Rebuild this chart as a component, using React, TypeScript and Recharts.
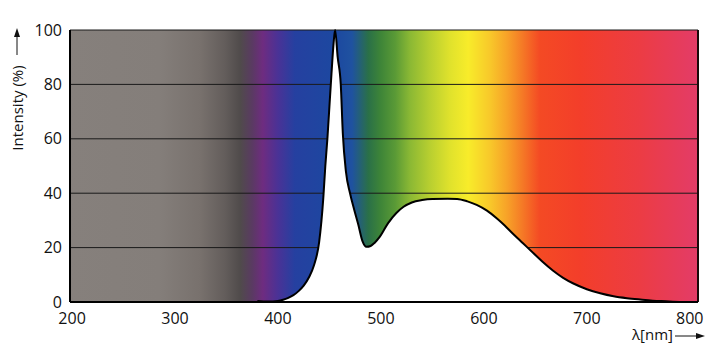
import React from "react";
import {
  ComposedChart, Area, XAxis, YAxis, CartesianGrid, ReferenceLine,
} from "recharts";

// Spektrum einer weißen LED: schmaler Blau-Peak + breite Phosphor-Bande.
// Hintergrund = Farbverlauf des Spektrums, Fläche unter der Kurve weiß.

const wavelengths = [
  380, 390, 400, 405, 410, 415, 420, 425, 430, 435, 440, 444, 446, 448, 450, 452, 454, 455.5,
  458, 461, 463, 466, 470, 474, 478, 482, 486, 490, 494, 499, 507, 515, 522, 530, 540, 550,
  565, 574, 584, 593, 603, 613, 620, 628, 638, 648, 657, 667, 677, 687, 700, 713, 726, 739,
  752, 764, 777, 790,
];
const intensity = [
  0.4, 0.2, 0.4, 0.8, 1.5, 2.5, 4, 6, 9, 13.5, 22, 38, 50, 60, 72, 84, 95, 100,
  90, 80, 62, 48, 40, 34, 28.5, 22.5, 20.3, 20.6, 21.8, 24, 29, 32.7, 35, 36.6, 37.5, 37.9,
  38, 37.9, 37, 35.7, 33.6, 30.6, 28.2, 25.2, 21.6, 18, 14.8, 11.6, 8.9, 6.8, 4.7, 3.2, 2.1, 1.4,
  0.9, 0.5, 0.25, 0,
];
const xTicks = [200, 300, 400, 500, 600, 700, 800];
const yTicks = [0, 20, 40, 60, 80, 100];

// Farbverlauf (Anteil der Plotbreite -> Farbe)
const gradOffsets = [0, 0.143, 0.207, 0.247, 0.271, 0.29, 0.307, 0.331, 0.358, 0.422, 0.449, 0.475,
  0.494, 0.518, 0.541, 0.573, 0.605, 0.634, 0.669, 0.696, 0.72, 0.748, 0.812, 0.908, 1];
const gradColors = ["#86807c", "#847e7a", "#78716d", "#635d5b", "#504b4b", "#5a3a62", "#6e2c80",
  "#4a3296", "#2540a0", "#1c48a0", "#1f52a0", "#2a7048", "#3d8438", "#5a9a36", "#8ab834", "#b8cf30",
  "#e0e22c", "#f8ec2a", "#f8c82a", "#f7a228", "#f57a26", "#f44a24", "#f33e2a", "#ec3c44", "#e33c68"];

const rows = wavelengths.map((w, i) => ({ w, v: intensity[i] }));

const FONT = "'Open Sans', sans-serif";

function YLabel({ viewBox }: any) {
  const cx = 17;
  const midY = viewBox.y + 78;
  return (
    <g>
      <text
        x={cx} y={midY} transform={`rotate(-90 ${cx} ${midY})`} textAnchor="middle"
        dominantBaseline="central" fontFamily={FONT} fontSize={15} fill="#111"
      >
        Intensity (%)
      </text>
      <line x1={cx} y1={viewBox.y + 25} x2={cx} y2={viewBox.y + 3} stroke="#111" strokeWidth={1} />
      <path d={`M${cx - 3},${viewBox.y + 7} L${cx},${viewBox.y - 2} L${cx + 3},${viewBox.y + 7} Z`} fill="#111" />
    </g>
  );
}

function XLabel({ viewBox }: any) {
  const right = viewBox.x + viewBox.width;
  const y = 340;
  return (
    <g>
      <text x={right - 25} y={y} textAnchor="end" fontFamily={FONT} fontSize={15} fill="#111">
        λ[nm]
      </text>
      <line x1={right - 23} y1={y - 4} x2={right + 2} y2={y - 4} stroke="#111" strokeWidth={1} />
      <path d={`M${right - 2},${y - 7} L${right + 7},${y - 4} L${right - 2},${y - 1} Z`} fill="#111" />
    </g>
  );
}

export default function App() {
  return (
    <div style={{ position: "absolute", left: 0, top: 0, background: "#fff" }}>
      <ComposedChart width={726} height={359} data={rows} margin={{ top: 30, right: 28, left: 10, bottom: 27 }}>
        <defs>
          <linearGradient id="spec" x1="0" y1="0" x2="1" y2="0">
            {gradOffsets.map((o, i) => (
              <stop key={i} offset={o} stopColor={gradColors[i]} />
            ))}
          </linearGradient>
        </defs>
        <CartesianGrid vertical={false} fill="url(#spec)" fillOpacity={1} stroke="#1a1a1a" strokeWidth={1} />
        <XAxis
          dataKey="w" type="number" domain={[198, 808]} ticks={xTicks} height={30}
          tickLine={false} axisLine={{ stroke: "#000", strokeWidth: 2 }}
          tick={{ fill: "#111", fontSize: 16, fontFamily: FONT }} tickMargin={5}
          label={<XLabel />}
        />
        <YAxis
          type="number" domain={[0, 100]} ticks={yTicks} width={60}
          tickLine={false} axisLine={{ stroke: "#000", strokeWidth: 2 }}
          tick={{ fill: "#111", fontSize: 16, fontFamily: FONT }}
          label={<YLabel />}
        />
        <ReferenceLine x={808} stroke="#1a0a0a" strokeWidth={2} />
        <Area
          dataKey="v" type="monotone" fill="#fff" fillOpacity={1} stroke="#000" strokeWidth={2}
          isAnimationActive={false} dot={false} activeDot={false}
        />
      </ComposedChart>
    </div>
  );
}
